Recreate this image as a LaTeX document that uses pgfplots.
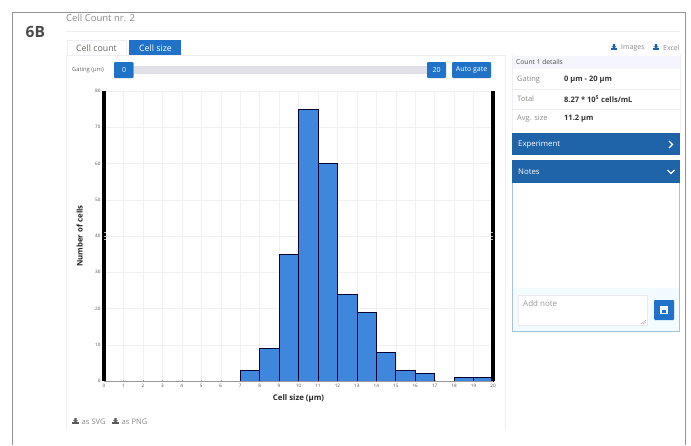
\documentclass[border=0pt]{standalone}
\usepackage{pgfplots}
\pgfplotsset{compat=1.18}
\usepackage{fontspec}
\setmainfont{Open Sans}
\definecolor{uiblue}{HTML}{1F72C8}
\definecolor{hdblue}{HTML}{1F63A8}
\definecolor{barblue}{HTML}{3F87DC}
\definecolor{txtgray}{HTML}{8A8A8A}
\definecolor{lineg}{HTML}{EDEFF2}
\newcommand{\dl}[3]{% download icon
  \fill[#3] (#1-1.1,#2-3)--(#1+1.1,#2-3)--(#1+1.1,#2-0.6)--(#1+2.4,#2-0.6)--(#1,#2+1.6)--(#1-2.4,#2-0.6)--(#1-1.1,#2-0.6)--cycle;
  \fill[#3] (#1-3.2,#2+1.4) rectangle (#1+3.2,#2+3);}
\pgfplotstableread{
x y
0 0
1 0
2 0
3 0
4 0
5 0
6 0
7 3
8 9
9 35
10 75
11 60
12 24
13 19
14 8
15 3
16 2
17 0
18 1
19 1
20 1
}\hist
\begin{document}
\begin{tikzpicture}
\useasboundingbox (0pt,0pt) rectangle (691pt,-445pt);
\begin{scope}[x=1pt,y=-1pt]
\fill[white] (0,0) rectangle (691,445);
% outer frame
\draw[color=gray!85,line width=0.8pt] (12.5,445)--(12.5,12.5)--(685.5,12.5)--(685.5,445);
\node[anchor=west,font=\bfseries\fontsize{15.5}{15.5}\selectfont,text=black!70,inner sep=0] at (25.5,32) {6B};
\node[anchor=west,font=\fontsize{9.5}{9.5}\selectfont,text=txtgray,inner sep=0] at (66,18) {Cell Count nr. 2};
\draw[lineg] (66,31.5)--(680,31.5);
% card
\draw[lineg] (66,430)--(66,55.5)--(505,55.5)--(505,430);
% tabs
\draw[lineg] (67,55)--(67,40.5)--(126,40.5)--(126,55);
\node[font=\fontsize{8.8}{8.8}\selectfont,text=black!60,inner sep=0] at (96.5,48.5) {Cell count};
\fill[uiblue] (129,40) rectangle (181,55);
\node[font=\fontsize{8.8}{8.8}\selectfont,text=white,inner sep=0] at (155.5,48.5) {Cell size};
% links
\dl{614}{47}{hdblue}
\node[anchor=west,font=\fontsize{7}{7}\selectfont,text=txtgray,inner sep=0] at (621,48) {Images};
\dl{656}{47}{hdblue}
\node[anchor=west,font=\fontsize{7}{7}\selectfont,text=txtgray,inner sep=0] at (663,48) {Excel};
% slider
\node[anchor=west,font=\fontsize{5.8}{5.8}\selectfont,text=black!60,inner sep=0] at (72,70) {Gating (µm)};
\fill[blue!20!black!12] (134,66) rectangle (428,74);
\fill[uiblue,rounded corners=1pt] (114,62) rectangle (133.5,78);
\node[font=\fontsize{7}{7}\selectfont,text=white,inner sep=0] at (124,70) {0};
\fill[uiblue,rounded corners=1pt] (427,62) rectangle (446,78);
\node[font=\fontsize{7}{7}\selectfont,text=white,inner sep=0] at (436.5,70) {20};
\fill[uiblue,rounded corners=1pt] (452,62) rectangle (491,78);
\node[font=\fontsize{7}{7}\selectfont,text=white,inner sep=0] at (471.5,70) {Auto gate};
% right details
\fill[black!10!blue!4!white] (512,55.5) rectangle (680,68.5);
\node[anchor=west,font=\fontsize{6.7}{6.7}\selectfont,text=black!70,inner sep=0] at (516,62) {Count 1 details};
\foreach \yy/\lab/\val in {79.5/Gating/{0 µm - 20 µm},99/Total/{8.27 * 10\textsuperscript{5} cells/mL},119/Avg. size/{11.2 µm}}{
  \node[anchor=west,font=\fontsize{7.5}{7.5}\selectfont,text=txtgray,inner sep=0] at (517,\yy) {\lab};
  \node[anchor=west,font=\bfseries\fontsize{7.5}{7.5}\selectfont,text=black!80,inner sep=0] at (564,\yy) {\val};
}
\draw[lineg] (512,89.5)--(680,89.5) (512,109)--(680,109);
\draw[lineg] (680,55)--(680,132) (512,55)--(512,132);
\fill[hdblue] (512,132.5) rectangle (680,155);
\node[anchor=west,font=\fontsize{7.8}{7.8}\selectfont,text=white,inner sep=0] at (518,144.5) {Experiment};
\draw[white,line width=1.3pt] (669,141)--(672.5,144.5)--(669,148);
\fill[hdblue] (512,160) rectangle (680,183);
\node[anchor=west,font=\fontsize{7.8}{7.8}\selectfont,text=white,inner sep=0] at (518,171.5) {Notes};
\draw[white,line width=1.3pt] (667.5,170)--(671,173.5)--(674.5,170);
\fill[blue!30!cyan!5!white] (512.5,288) rectangle (679.5,331.5);
\draw[hdblue!40] (512.5,183)--(512.5,331.5)--(679.5,331.5)--(679.5,183);
\fill[white,draw=black!8] (518.5,295) rectangle (647.5,325);
\node[anchor=west,font=\fontsize{8}{8}\selectfont,text=black!40,inner sep=0] at (523,303) {Add note};
\draw[black!40,line width=0.3pt] (641,324)--(646,320) (643,324)--(646,322);
\fill[uiblue,rounded corners=1pt] (654,300) rectangle (674,320);
\fill[white] (660,306) rectangle (668,314);
\fill[uiblue] (662,310) rectangle (666,313);
% bottom links
\dl{75.5}{421}{black!65}
\node[anchor=west,font=\fontsize{7.6}{7.6}\selectfont,text=txtgray,inner sep=0] at (81.5,422) {as SVG};
\dl{115.5}{421}{black!65}
\node[anchor=west,font=\fontsize{7.6}{7.6}\selectfont,text=txtgray,inner sep=0] at (121.5,422) {as PNG};
\end{scope}
% chart
\begin{axis}[
  at={(104pt,-381pt)},anchor=south west,
  scale only axis,width=389pt,height=290pt,
  xmin=0,xmax=20,ymin=0,ymax=80,
  xtick={0,1,...,20},ytick={0,10,...,80},
  grid=major,major grid style={draw=black!6,line width=0.4pt},
  axis x line*=bottom,axis y line*=left,
  axis line style={-,draw=none},
  tick style={black!40,line width=0.3pt},
  major tick length=1.5pt,
  tick label style={font=\fontsize{4.6}{4.6}\selectfont,text=black!70},
  /pgf/number format/assume math mode=true,
  xlabel={\bfseries Cell size (µm)},
  ylabel={\bfseries Number of cells},
  label style={font=\fontsize{7.8}{7.8}\selectfont,text=black!85},
  xlabel style={at={(axis description cs:0.5,0)},anchor=north,yshift=-13pt,inner sep=0},
  ylabel style={at={(axis description cs:0,0.5)},anchor=south,yshift=21pt,inner sep=0},
  clip=false,
]
\addplot[ybar interval,fill=barblue,draw=black!80!blue,line width=0.6pt] table[x=x,y=y]{\hist};
\addplot[black!40,line width=0.8pt,forget plot] coordinates {(0,0) (20,0)};
\addplot[black,line width=4.4pt,forget plot] coordinates {(0,0) (0,80)};
\addplot[black,line width=4.4pt,forget plot] coordinates {(20,0) (20,80)};
\addplot[white!70!black,line width=0.4pt,forget plot] coordinates {(0,39) (0.1,39)};
\addplot[white!70!black,line width=0.4pt,forget plot] coordinates {(0,40) (0.1,40)};
\addplot[white!70!black,line width=0.4pt,forget plot] coordinates {(0,41) (0.1,41)};
\addplot[white!70!black,line width=0.4pt,forget plot] coordinates {(19.9,39) (20,39)};
\addplot[white!70!black,line width=0.4pt,forget plot] coordinates {(19.9,40) (20,40)};
\addplot[white!70!black,line width=0.4pt,forget plot] coordinates {(19.9,41) (20,41)};
\end{axis}
\end{tikzpicture}
\end{document}
